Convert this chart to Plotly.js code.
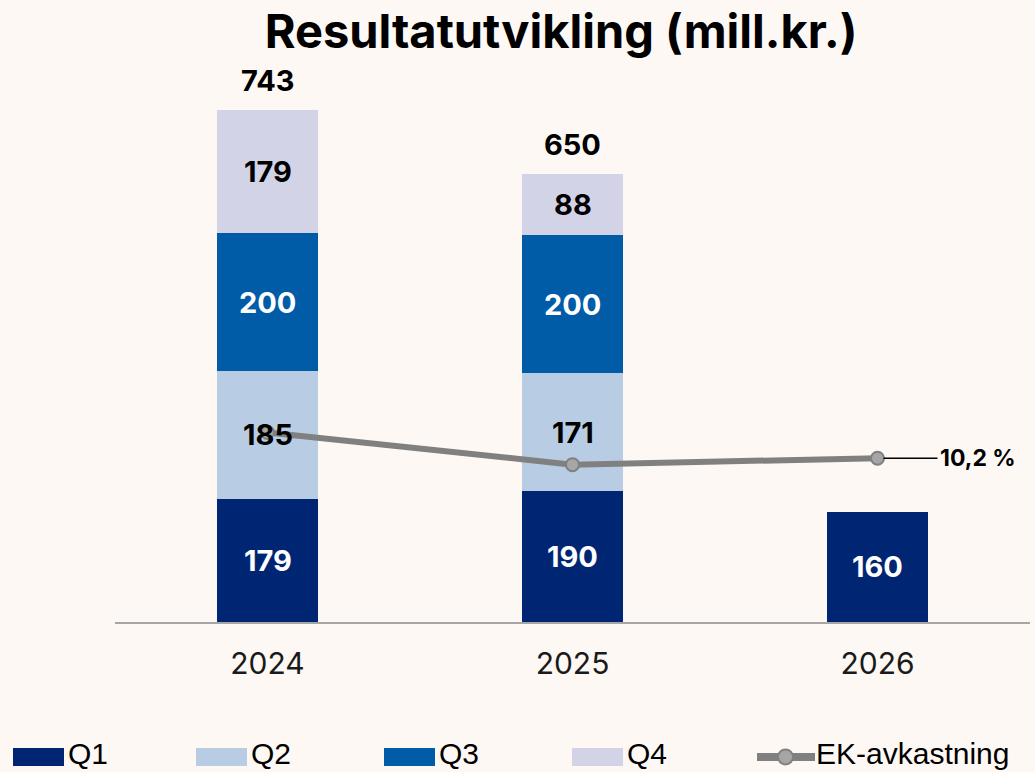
<!DOCTYPE html>
<html>
<head>
<meta charset="utf-8">
<script src="https://cdn.plot.ly/plotly-3.0.1.min.js"></script>
<style>
  html, body { margin: 0; padding: 0; background: #fdf8f4; }
  #chart { width: 1035px; height: 772px; }
</style>
</head>
<body>
<div id="chart"></div>
<script>
// ---- data ----
const years = ['2024', '2025', '2026'];
const seriesNames = ['Q1', 'Q2', 'Q3', 'Q4'];
const q1 = [179, 190, 160];
const q2 = [185, 171, null];
const q3 = [200, 200, null];
const q4 = [179, 88, null];
const totals = [743, 650, null];
const ekName = 'EK-avkastning';
const ekValues = [11.8, 9.8, 10.2];
const ekLastLabel = '10,2 %';
const chartTitle = 'Resultatutvikling (mill.kr.)';

// ---- styles ----
const seriesColors = ['#002673', '#b8cde4', '#005ca7', '#d3d3e8'];
const labelColors = ['#ffffff', '#000000', '#ffffff', '#000000'];
const lineColor = '#808080';
const markerFill = '#a6a6a6';
const bg = '#fdf8f4';
const fontMain = 'Inter, "Open Sans", sans-serif';
const fontLegend = '"Liberation Sans", Arial, sans-serif';

const W = 1035, H = 772;
const M = { l: 115, r: 5, t: 60, b: 150 };
const plotW = W - M.l - M.r, plotH = H - M.t - M.b;
const px2x = px => (px - M.l) / plotW;
const py2y = py => (H - M.b - py) / plotH;

const seriesValues = [q1, q2, q3, q4];

const traces = seriesValues.map((vals, s) => ({
  type: 'bar',
  name: seriesNames[s],
  x: years,
  y: vals,
  marker: { color: seriesColors[s], line: { width: 0 } },
  hoverinfo: 'skip',
  showlegend: false
}));

traces.push({
  type: 'scatter',
  mode: 'lines+markers',
  name: ekName,
  x: years,
  y: ekValues,
  yaxis: 'y2',
  line: { color: lineColor, width: 6 },
  marker: { size: 13, color: markerFill, line: { color: lineColor, width: 2 } },
  hoverinfo: 'skip',
  showlegend: false
});

const annotations = [];
// segment labels (x given as category index)
years.forEach((yr, i) => {
  let base = 0;
  seriesValues.forEach((vals, s) => {
    const v = vals[i];
    if (v == null) return;
    annotations.push({
      x: i, y: base + v / 2, xref: 'x', yref: 'y',
      text: '<b>' + v + '</b>', showarrow: false,
      font: { family: fontMain, size: 29, color: labelColors[s] }
    });
    base += v;
  });
  if (totals[i] != null) {
    annotations.push({
      x: i, y: totals[i], xref: 'x', yref: 'y',
      text: '<b>' + totals[i] + '</b>', showarrow: false, yanchor: 'bottom', yshift: 10,
      font: { family: fontMain, size: 29, color: '#000000' }
    });
  }
});
// last EK label
const lastIdx = ekValues.length - 1;
annotations.push({
  x: lastIdx, y: ekValues[lastIdx], xref: 'x', yref: 'y2',
  text: '<b>' + ekLastLabel + '</b>', showarrow: true, ax: 60, ay: 0,
  arrowhead: 0, arrowwidth: 1.5, arrowcolor: '#000000', standoff: 6,
  xanchor: 'left',
  font: { family: fontMain, size: 23, color: '#000000' }
});

// custom legend
const shapes = [];
const legendX = [13, 196, 384, 572, 757];
const legendY = 757;
const legendTextY = 753;
seriesNames.forEach((nm, s) => {
  const x0 = legendX[s];
  shapes.push({
    type: 'rect', xref: 'paper', yref: 'paper',
    x0: px2x(x0), x1: px2x(x0 + 51), y0: py2y(legendY + 9), y1: py2y(legendY - 9),
    fillcolor: seriesColors[s], line: { width: 0 }
  });
  annotations.push({
    xref: 'paper', yref: 'paper', x: px2x(x0 + 53), y: py2y(legendTextY),
    xanchor: 'left', yanchor: 'middle', showarrow: false, text: nm,
    font: { family: fontLegend, size: 30, color: '#000000' }
  });
});
{
  const x0 = legendX[4];
  shapes.push({
    type: 'line', xref: 'paper', yref: 'paper',
    x0: px2x(x0), x1: px2x(x0 + 58), y0: py2y(legendY), y1: py2y(legendY),
    line: { color: lineColor, width: 8 }
  });
  shapes.push({
    type: 'circle', xref: 'paper', yref: 'paper',
    x0: px2x(x0 + 21), x1: px2x(x0 + 36), y0: py2y(legendY + 7.5), y1: py2y(legendY - 7.5),
    fillcolor: markerFill, line: { color: lineColor, width: 2 }
  });
  annotations.push({
    xref: 'paper', yref: 'paper', x: px2x(x0 + 57), y: py2y(legendTextY),
    xanchor: 'left', yanchor: 'middle', showarrow: false, text: ekName,
    font: { family: fontLegend, size: 30, color: '#000000' }
  });
}

const layout = {
  width: W, height: H,
  margin: M,
  paper_bgcolor: bg, plot_bgcolor: bg,
  barmode: 'stack',
  bargap: 0.67,
  showlegend: false,
  title: {
    text: '<b>' + chartTitle + '</b>',
    x: 561 / W, xref: 'container', xanchor: 'center',
    y: 1 - 32 / H, yref: 'container', yanchor: 'middle',
    font: { family: fontMain, size: 47, color: '#000000' }
  },
  xaxis: {
    type: 'category', range: [-0.5, 2.5],
    showline: true, linecolor: '#a6a6a6', linewidth: 2,
    ticks: '', showgrid: false, zeroline: false,
    ticklabelstandoff: 14,
    tickfont: { family: fontMain, size: 30, color: '#1a1a1a' },
    fixedrange: true
  },
  yaxis: { range: [0, 815], visible: false, showgrid: false, zeroline: false, fixedrange: true },
  yaxis2: { range: [0, 35], overlaying: 'y', visible: false, showgrid: false, zeroline: false, fixedrange: true },
  annotations: annotations,
  shapes: shapes
};

Plotly.newPlot('chart', traces, layout, { displayModeBar: false, staticPlot: true });
</script>
</body>
</html>
